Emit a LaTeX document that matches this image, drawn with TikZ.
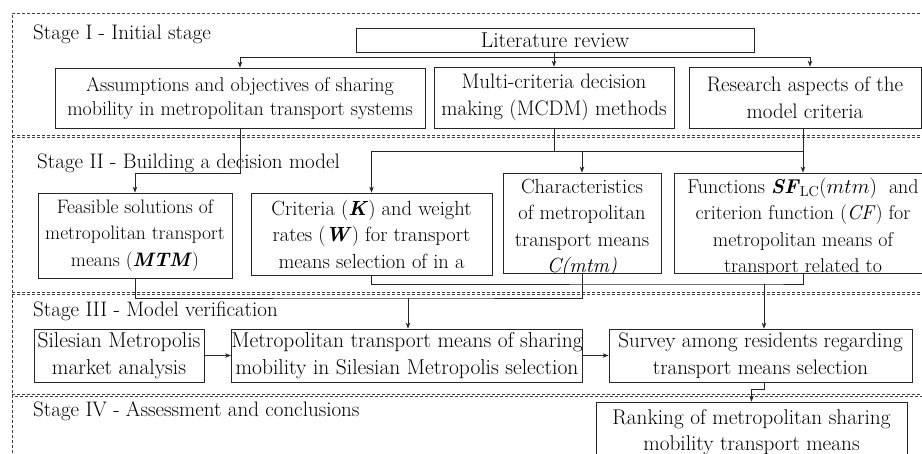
\documentclass[tikz,border=0pt]{standalone}
\usetikzlibrary{arrows.meta,calc}
\begin{document}
\begin{tikzpicture}[x=1pt,y=-1pt,
  box/.style={draw=black!85,line width=0.8pt,rectangle,inner sep=0pt,align=center,font=\fontsize{21}{26.5}\selectfont},
  txt/.style={inner sep=0pt,align=center,font=\fontsize{20.5}{26.5}\selectfont},
  lbl/.style={inner sep=0pt,anchor=west,font=\fontsize{21}{24}\selectfont},
  frame/.style={draw=black!75,line width=0.7pt,dash pattern=on 3pt off 2pt},
  con/.style={draw=black!85,line width=0.8pt},
  arr/.style={con,-{Stealth[length=6pt,width=4.5pt]}}]
\clip (0,0) rectangle (922,453);
\fill[white] (0,0) rectangle (922,453);

% stage frames
\draw[frame] (12,453) -- (12,13) -- (922,13);
\draw[frame] (12,135) -- (922,135);
\draw[frame] (12,137.5) -- (922,137.5);
\draw[frame] (12,292) -- (922,292);
\draw[frame] (12,294.5) -- (922,294.5);
\draw[frame] (12,394) -- (922,394);
\draw[frame,dash phase=2pt] (12,396) -- (922,396);

% stage labels
\node[lbl] (s1) at (33,34) {Stage I - Initial stage};
\node[lbl] (s2) at (37,163) {Stage II - Building a decision model};
\node[lbl] (s3) at (33,311) {Stage III - Model verification};
\node[lbl] (s4) at (33,411) {Stage IV - Assessment and conclusions};

% stage I
\node[box,minimum width=398,minimum height=24,font=\fontsize{21.5}{26}\selectfont] (lit) at (555,40) {Literature review};
\node[box,minimum width=370,minimum height=60,font=\fontsize{20}{24}\selectfont] (assum) at (240,98) {Assumptions and objectives of sharing\\mobility in metropolitan transport systems};
\node[box,minimum width=240,minimum height=61] (mcdm) at (554,97.5) {Multi-criteria decision\\making (MCDM) methods};
\node[box,minimum width=232,minimum height=61] (research) at (805,97.5) {Research aspects of the\\model criteria};

% stage II
\node[box,minimum width=194,minimum height=85,font=\fontsize{19.5}{26.5}\selectfont] (feas) at (135,235.5) {Feasible solutions of\\metropolitan transport\\means (\textbf{\textit{MTM}})};
\node[box,minimum width=241,minimum height=82,font=\fontsize{20.5}{26.5}\selectfont] (crit) at (371.5,234) {Criteria (\textbf{\textit{K}}) and weight\\rates (\textbf{\textit{W}}) for transport\\means selection of in a};
\node[box,minimum width=158,minimum height=100] (charac) at (582,223) {};
\node[box,minimum width=258,minimum height=100] (func) at (803,223) {};
\begin{scope}
\clip (charac.south west) rectangle (charac.north east);
\node[txt,anchor=north] (charact) at ([yshift=-6pt]charac.north) {Characteristics\\of metropolitan\\transport means\\\textit{C(mtm)}};
\end{scope}
\begin{scope}
\clip (func.south west) rectangle (func.north east);
\node[txt,anchor=north,font=\fontsize{20}{26.5}\selectfont] (funct) at ([yshift=-5pt]func.north) {Functions \textbf{\textit{SF}}$_{\mathrm{LC}}(mtm)$\ \ and\\criterion function (\textit{CF}) for\\metropolitan means of\\transport related to};
\end{scope}

% stage III
\node[box,minimum width=170,minimum height=53,font=\fontsize{21.5}{27.5}\selectfont] (sil) at (119,355.5) {Silesian Metropolis\\market analysis};
\node[box,minimum width=350,minimum height=53,font=\fontsize{21.5}{27.5}\selectfont] (metro) at (407,355.5) {Metropolitan transport means of sharing\\mobility in Silesian Metropolis selection};
\node[box,minimum width=303,minimum height=53,font=\fontsize{21}{27.5}\selectfont] (survey) at (760.5,355.5) {Survey among residents regarding\\transport means selection};

% stage IV
\node[box,minimum width=311,minimum height=60,font=\fontsize{21.3}{26.5}\selectfont] (rank) at (751.5,432) {Ranking of metropolitan sharing\\mobility transport means};

% connectors stage I
\coordinate (j1) at (554,57);
\coordinate (j1r) at (810,57);
\draw[arr] (mcdm.north |- lit.south) -- (mcdm.north);
\draw[con] (j1) -- (j1r);
\draw[arr] (j1) -| (assum.north);
\draw[arr] (j1r) -- (j1r |- research.north);

% connectors I -> II
\draw[arr] (assum.south) -- ++(0,45) -| (feas.north);
\coordinate (h2) at (554,151);
\draw[con] (mcdm.south) -- (h2);
\draw[arr] (h2) -| (crit.north);
\draw[arr] (h2) -| (charac.north);
\draw[con] (h2) -- (h2 -| func.north);
\draw[arr] (func.north |- research.south) -- (func.north);

% connectors II -> III
\coordinate (h3) at (408,298);
\draw[con] (feas.south) |- (h3) -- (h3 -| charac.south) -- (charac.south);
\draw[arr] (h3) -- (h3 |- metro.north);
\coordinate (h4) at (764,284);
\draw[con] (crit.south) |- (h4) -- (h4 -| func.south) -- (func.south);
\draw[arr] (h4) -- (h4 |- survey.north);

% connectors III
\draw[arr] (sil.east) -- (metro.west);
\draw[arr] (metro.east) -- (survey.west);
\draw[arr] (survey.south -| h4) -- ++(0,7) -| (rank.north);
\end{tikzpicture}
\end{document}
